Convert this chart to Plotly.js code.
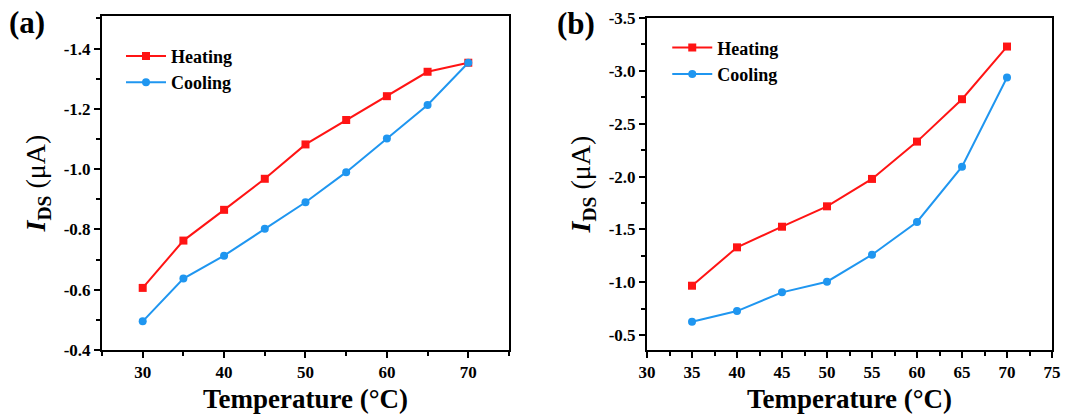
<!DOCTYPE html>
<html>
<head>
<meta charset="utf-8">
<script src="https://cdn.plot.ly/plotly-3.0.1.min.js"></script>
<style>html,body{margin:0;padding:0;background:#fff;}#chart{width:1069px;height:418px;}</style>
</head>
<body>
<div id="chart"></div>
<script>
// Panel (a)
const tempA = [30, 35, 40, 45, 50, 55, 60, 65, 70];
const heatingA = [-0.606, -0.763, -0.865, -0.968, -1.082, -1.163, -1.242, -1.323, -1.353];
const coolingA = [-0.495, -0.637, -0.713, -0.802, -0.890, -0.990, -1.102, -1.213, -1.353];
const yTicksA = [-0.4, -0.6, -0.8, -1.0, -1.2, -1.4];
// Panel (b)
const tempB = [35, 40, 45, 50, 55, 60, 65, 70];
const heatingB = [-0.968, -1.331, -1.526, -1.719, -1.978, -2.331, -2.732, -3.230];
const coolingB = [-0.627, -0.728, -0.905, -1.006, -1.261, -1.571, -2.094, -2.937];
const yTicksB = [-0.5, -1.0, -1.5, -2.0, -2.5, -3.0, -3.5];
const seriesNames = ['Heating', 'Cooling'];
const panelLabels = ['(a)', '(b)'];

const RED = '#ff1414';
const BLUE = '#1f96f0';
const FONT = 'Liberation Serif, Times New Roman, serif';

function tr(x, y, name, color, symbol, xa, ya, legend) {
  return {
    x: x, y: y, name: name, type: 'scatter', mode: 'lines+markers',
    xaxis: xa, yaxis: ya, legend: legend,
    line: {color: color, width: 2},
    marker: {color: color, symbol: symbol, size: 8}
  };
}

const data = [
  tr(tempA, heatingA, seriesNames[0], RED, 'square', 'x', 'y', 'legend'),
  tr(tempA, coolingA, seriesNames[1], BLUE, 'circle', 'x', 'y', 'legend'),
  tr(tempB, heatingB, seriesNames[0], RED, 'square', 'x2', 'y2', 'legend2'),
  tr(tempB, coolingB, seriesNames[1], BLUE, 'circle', 'x2', 'y2', 'legend2')
];

const tickFont = {family: FONT, size: 17, color: '#000', weight: 'bold'};
const xTitle = {text: '<b>Temperature (°C)</b>', font: {family: FONT, size: 27, color: '#000'}, standoff: 8};
const yTitle = {text: '<b><i>I</i></b><sub><b>DS</b></sub> (μA)', font: {family: FONT, size: 28, color: '#000'}, standoff: 10};

function labels(vals) { return vals.map(v => '<b>-' + Math.abs(v).toFixed(1) + '</b>'); }

function axis(extra) {
  return Object.assign({
    showline: true, linecolor: '#000', linewidth: 2, mirror: true,
    ticks: 'outside', ticklen: 6, tickwidth: 2, tickcolor: '#000',
    showgrid: false, zeroline: false, tickfont: tickFont,
    automargin: false, fixedrange: true
  }, extra);
}

const minorOpts = (dt, t0) => ({dtick: dt, tick0: t0, ticks: 'outside', ticklen: 4, tickwidth: 2, tickcolor: '#000'});

const legendCommon = {
  font: {family: FONT, size: 18, color: '#000', weight: 'bold'},
  bgcolor: 'rgba(0,0,0,0)', borderwidth: 0, itemwidth: 40,
  xanchor: 'left', yanchor: 'top', tracegroupgap: 0
};

const layout = {
  width: 1069, height: 418,
  margin: {l: 102, r: 17, t: 16, b: 68},
  paper_bgcolor: '#fff', plot_bgcolor: '#fff',
  showlegend: true,
  xaxis: axis({domain: [0, 0.4284], range: [25, 75], dtick: 10, tick0: 30,
    minor: minorOpts(5, 25), title: xTitle, anchor: 'y'}),
  yaxis: axis({domain: [0, 1], range: [-0.4, -1.508], tickmode: 'array',
    tickvals: yTicksA, ticktext: labels(yTicksA),
    minor: minorOpts(0.1, -0.4), title: yTitle, anchor: 'x'}),
  xaxis2: axis({domain: [0.5737, 1], range: [30, 75], dtick: 5, tick0: 30,
    minor: minorOpts(2.5, 30), title: xTitle, anchor: 'y2'}),
  yaxis2: axis({domain: [0, 0.994], range: [-0.36, -3.5], tickmode: 'array',
    tickvals: yTicksB, ticktext: labels(yTicksB),
    minor: minorOpts(0.25, -0.5), title: yTitle, anchor: 'x2'}),
  legend: Object.assign({}, legendCommon, {x: 0.02, y: 0.935}),
  legend2: Object.assign({}, legendCommon, {x: 0.595, y: 0.96}),
  annotations: [
    {text: '<b>' + panelLabels[0] + '</b>', xref: 'paper', yref: 'paper', x: -0.1, y: 1.04,
     xanchor: 'left', yanchor: 'top', showarrow: false, font: {family: FONT, size: 31, color: '#000'}},
    {text: '<b>' + panelLabels[1] + '</b>', xref: 'paper', yref: 'paper', x: 0.477, y: 1.035,
     xanchor: 'left', yanchor: 'top', showarrow: false, font: {family: FONT, size: 31, color: '#000'}}
  ]
};

Plotly.newPlot('chart', data, layout, {displayModeBar: false, staticPlot: true});
</script>
</body>
</html>
